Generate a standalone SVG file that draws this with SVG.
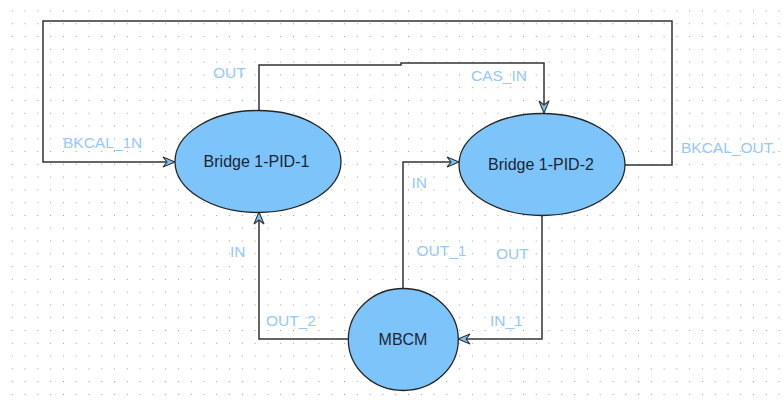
<svg xmlns="http://www.w3.org/2000/svg" width="783" height="403" viewBox="0 0 783 403">
  <style>
    .node { fill: #7cc4fa; stroke: #262626; stroke-width: 1.3; }
    .ntext { font-family: "Liberation Sans", Arial, sans-serif; font-size: 16px; fill: #1c2433; text-anchor: middle; }
    .lbl { font-family: "Liberation Sans", Arial, sans-serif; font-size: 15.5px; fill: #96c8fa; }
    .conn { fill: none; stroke: #333333; stroke-width: 1.5; marker-end: url(#arr); }
  </style>
  <defs>
    <pattern id="grid" patternUnits="userSpaceOnUse" x="11.8" y="10.5" width="12.78" height="12.78">
      <rect x="0" y="0" width="1" height="1" fill="#9a9a9a"/>
    </pattern>
    <marker id="arr" markerUnits="userSpaceOnUse" viewBox="-14 -7 15 14" refX="0" refY="0" markerWidth="15" markerHeight="14" orient="auto" overflow="visible">
      <path d="M0,0 L-12,-5 L-8,0 L-12,5 Z" fill="#7cc4fa" stroke="#333333" stroke-width="1.1" stroke-linejoin="miter"/>
    </marker>
  </defs>
  <rect width="783" height="403" fill="#ffffff"/>
  <rect width="783" height="403" fill="url(#grid)"/>

  <g id="connectors">
    <path class="conn" d="M625,165 H672 V21 H43 V162 H175"/>
    <path class="conn" d="M259,110 V65 H401 V63 H544 V113"/>
    <path class="conn" d="M403,288 V162 H459"/>
    <path class="conn" d="M542,215 V339 H458"/>
    <path class="conn" d="M348,339 H259 V212"/>
  </g>

  <g id="labels">
    <text class="lbl" x="213" y="78">OUT</text>
    <text class="lbl" x="63" y="148">BKCAL_1N</text>
    <text class="lbl" x="471" y="80.5">CAS_IN</text>
    <text class="lbl" x="681" y="152.5">BKCAL_OUT.</text>
    <text class="lbl" x="411.5" y="188">IN</text>
    <text class="lbl" x="230" y="256.5">IN</text>
    <text class="lbl" x="416.5" y="256">OUT_1</text>
    <text class="lbl" x="496" y="259">OUT</text>
    <text class="lbl" x="266" y="326">OUT_2</text>
    <text class="lbl" x="490" y="326">IN_1</text>
  </g>

  <g id="pid1">
    <ellipse class="node" cx="258" cy="161.5" rx="83" ry="51"/>
    <text class="ntext" x="256.5" y="167">Bridge 1-PID-1</text>
  </g>
  <g id="pid2">
    <ellipse class="node" cx="542" cy="164.5" rx="83" ry="51"/>
    <text class="ntext" x="541" y="170">Bridge 1-PID-2</text>
  </g>
  <g id="mbcm">
    <ellipse class="node" cx="403.3" cy="339.5" rx="55" ry="51"/>
    <text class="ntext" x="403" y="345">MBCM</text>
  </g>
</svg>
